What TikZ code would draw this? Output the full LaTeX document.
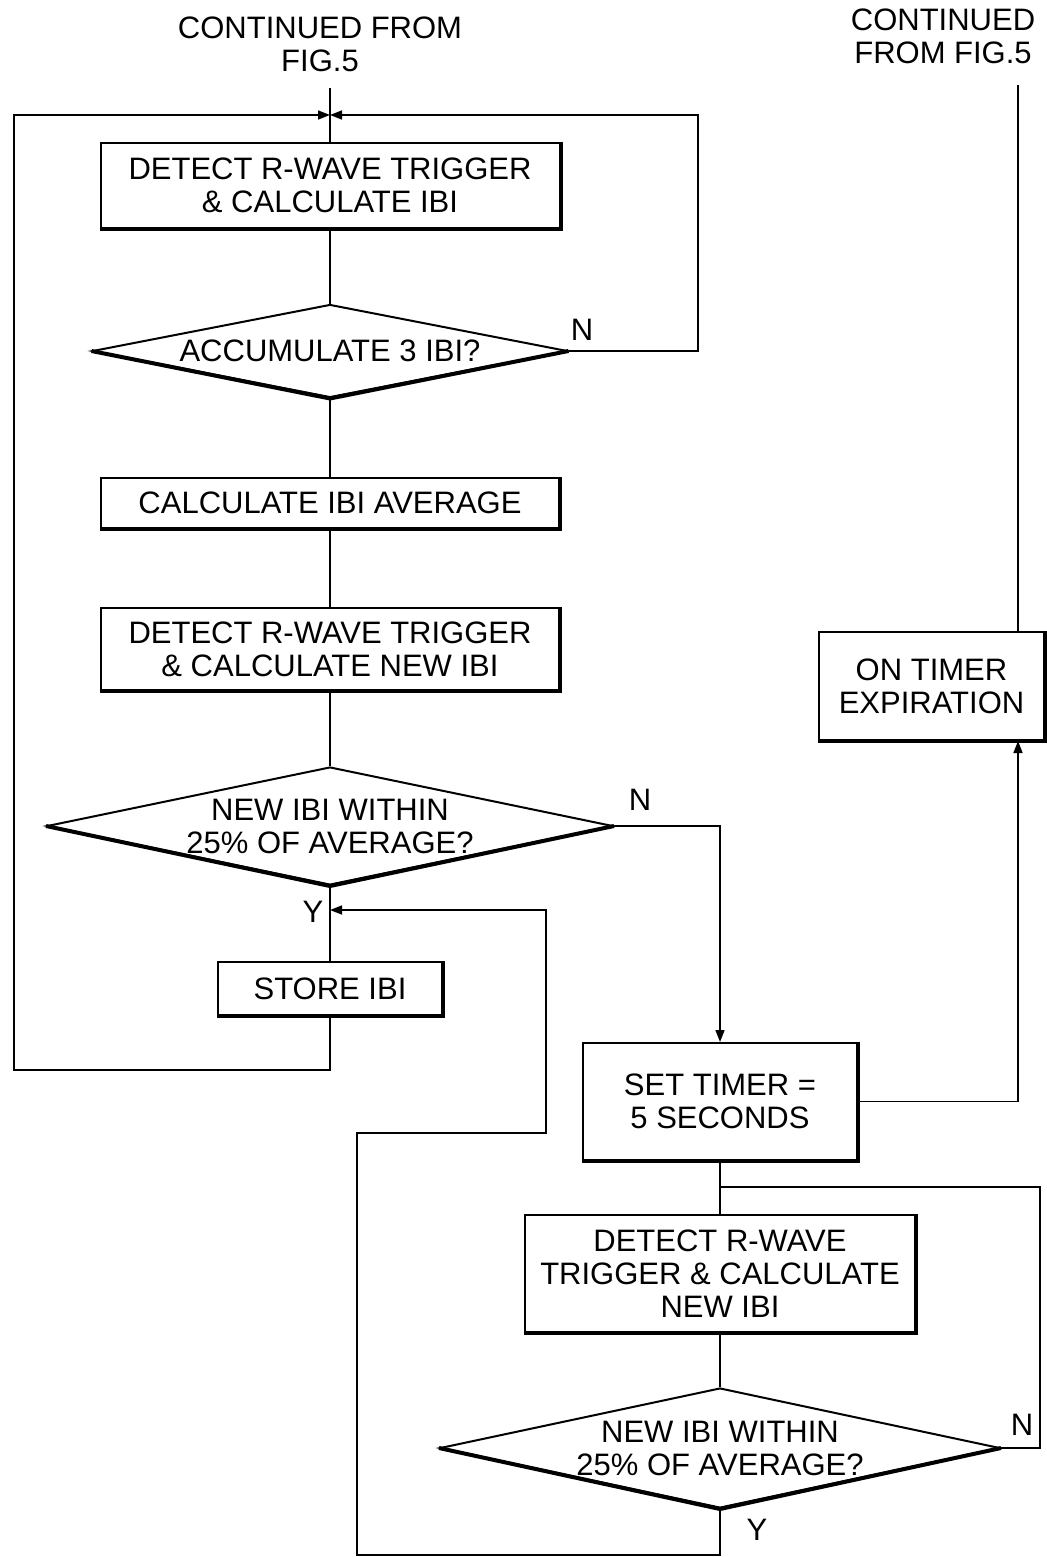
\documentclass[tikz,border=0pt]{standalone}
\usepackage{fontspec}
\setmainfont{Liberation Sans}
\usetikzlibrary{shapes.geometric,arrows.meta}

\tikzset{
  stepbox/.style={draw,line width=1pt,align=center,inner sep=0pt},
  testbox/.style={draw,diamond,line width=1pt,align=center,inner sep=0pt},
  conn/.style={line width=0.8pt},
  arr/.style={conn,-{Triangle[length=6pt,width=4.5pt]}},
  shade/.style={line width=2pt},
}

\begin{document}
\begin{tikzpicture}[x=0.5pt,y=-0.5pt,font=\fontsize{15.5}{16.5}\selectfont]
\useasboundingbox (0,0) rectangle (1046,1557);
% entry texts
\node[align=center] (cont1) at (320,44) {CONTINUED FROM\\FIG.5};
\node[align=center] (cont2) at (943,36) {CONTINUED\\FROM FIG.5};
% left column
\node[stepbox,minimum width=229.5pt,minimum height=42.5pt] (detect1) at (330,185.5) {DETECT R-WAVE TRIGGER\\\& CALCULATE IBI};
\node[testbox,shape aspect=5.1,minimum width=237.5pt,minimum height=46.5pt] (acc) at (330,351) {ACCUMULATE 3 IBI?};
\node[stepbox,minimum width=229pt,minimum height=25pt] (avg) at (330,503) {CALCULATE IBI AVERAGE};
\node[stepbox,minimum width=229pt,minimum height=41pt] (detect2) at (330,649) {DETECT R-WAVE TRIGGER\\\& CALCULATE NEW IBI};
\node[testbox,shape aspect=4.8,minimum width=283pt,minimum height=59pt] (within1) at (330,826) {NEW IBI WITHIN\\25\% OF AVERAGE?};
\node[stepbox,minimum width=112pt,minimum height=26.5pt] (store) at (330,988.5) {STORE IBI};
% right column
\node[stepbox,minimum width=137pt,minimum height=58.5pt] (timer) at (720,1101.5) {SET TIMER =\\5 SECONDS};
\node[stepbox,minimum width=112.5pt,minimum height=54pt] (expire) at (931.5,686) {ON TIMER\\EXPIRATION};
\node[stepbox,minimum width=195pt,minimum height=58.5pt] (detect3) at (720,1273.5) {DETECT R-WAVE\\TRIGGER \& CALCULATE\\NEW IBI};
\node[testbox,shape aspect=4.67,minimum width=280pt,minimum height=60pt] (within2) at (720,1448) {NEW IBI WITHIN\\25\% OF AVERAGE?};
% branch labels
\node (nAcc) at (582,330) {N};
\node (nWithin1) at (640,800) {N};
\node (yWithin1) at (313,912) {Y};
\node (nWithin2) at (1022,1425) {N};
\node (yWithin2) at (757,1530) {Y};
% shading on lower edges
\draw[shade] (detect1.north east) -- (detect1.south east) -- (detect1.south west);
\draw[shade] (avg.north east) -- (avg.south east) -- (avg.south west);
\draw[shade] (detect2.north east) -- (detect2.south east) -- (detect2.south west);
\draw[shade] (store.north east) -- (store.south east) -- (store.south west);
\draw[shade] (timer.north east) -- (timer.south east) -- (timer.south west);
\draw[shade] (expire.north east) -- (expire.south east) -- (expire.south west);
\draw[shade] (detect3.north east) -- (detect3.south east) -- (detect3.south west);
\draw[shade] (acc.west) -- (acc.south) -- (acc.east);
\draw[shade] (within1.west) -- (within1.south) -- (within1.east);
\draw[shade] (within2.west) -- (within2.south) -- (within2.east);
% free ends and corners
\coordinate (top) at (330,88);
\coordinate (join) at (330,115);
\coordinate (loopL) at (14,1070);
\coordinate (loopR) at (698,115);
\coordinate (yIn) at (330,910);
\coordinate (retA) at (357,1555);
\coordinate (retB) at (546,1133);
\coordinate (join2) at (720,1187);
\coordinate (loopN) at (1040,1187);
\coordinate (top2) at (1018,85);
% connectors
\draw[conn] (top) -- (detect1.north);
\draw[conn] (detect1.south) -- (acc.north);
\draw[conn] (acc.south) -- (avg.north);
\draw[conn] (avg.south) -- (detect2.north);
\draw[conn] (detect2.south) -- (within1.north);
\draw[conn] (within1.south) -- (store.north);
\draw[arr] (store.south) |- (loopL) |- (join);
\draw[arr] (acc.east) -| (loopR) -- (join);
\draw[arr] (within1.east) -| (timer.north);
\draw[conn] (timer.south) -- (detect3.north);
\draw[conn] (detect3.south) -- (within2.north);
\draw[conn] (within2.east) -| (loopN) -- (join2);
\draw[arr] (within2.south) |- (retA) |- (retB) |- (yIn);
\draw[arr] (timer.east) -| ([xshift=43.25pt]expire.south);
\draw[conn] ([xshift=43.25pt]expire.north) -- (top2);
\end{tikzpicture}
\end{document}
